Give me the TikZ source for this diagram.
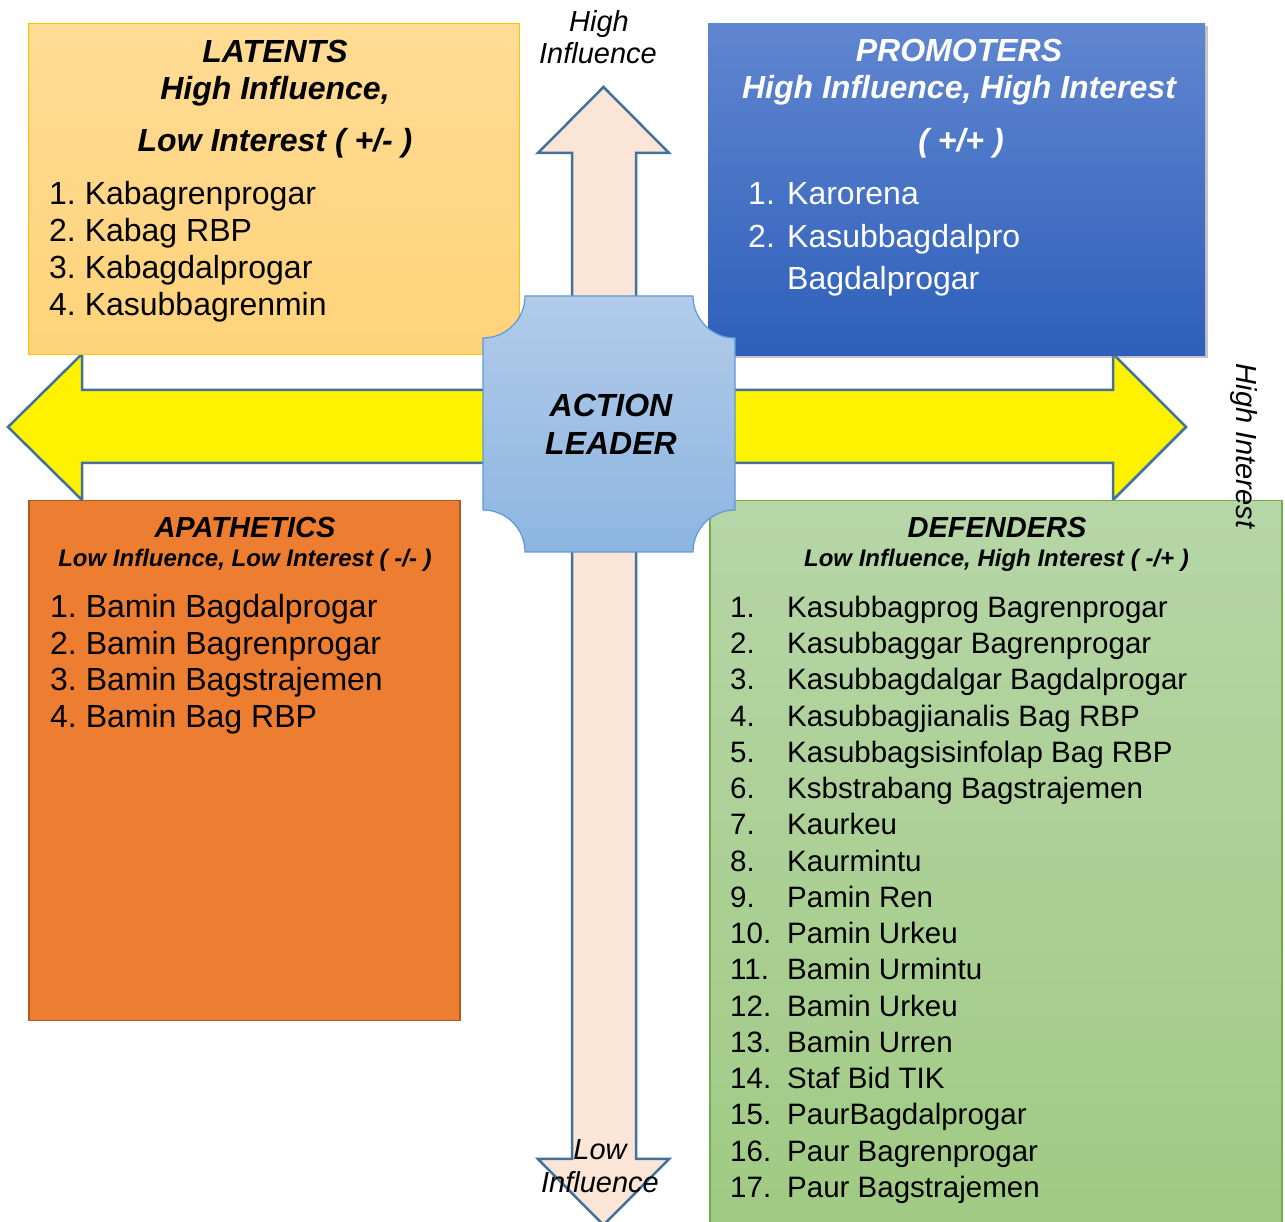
\documentclass[tikz,border=0pt]{standalone}
\usepackage{fontspec}
\setmainfont{Liberation Sans}
\usepackage{tikz}
\usetikzlibrary{shadows}
\definecolor{arrowline}{RGB}{65,113,156}
\definecolor{peach}{RGB}{251,229,214}
\definecolor{lattop}{RGB}{255,219,148}
\definecolor{latbot}{RGB}{255,211,122}
\definecolor{latline}{RGB}{255,192,0}
\definecolor{protop}{RGB}{96,134,208}
\definecolor{probot}{RGB}{46,95,186}
\definecolor{apafill}{RGB}{237,125,49}
\definecolor{apaline}{RGB}{174,90,33}
\definecolor{deftop}{RGB}{182,214,167}
\definecolor{defbot}{RGB}{160,202,131}
\definecolor{defline}{RGB}{112,173,71}
\definecolor{leadtop}{RGB}{178,203,233}
\definecolor{leadbot}{RGB}{141,181,226}
\definecolor{leadline}{RGB}{91,155,213}

\begin{document}
\begin{tikzpicture}[x=1pt,y=1pt,
  arrowshape/.style={draw=arrowline,line width=2.5pt,line join=miter},
  quad/.style={anchor=north west,inner sep=0pt},
  title/.style={font=\fontsize{32}{38}\selectfont\bfseries\itshape,anchor=base,inner sep=0pt},
  smalltitle/.style={font=\fontsize{29}{34}\selectfont\bfseries\itshape,anchor=base,inner sep=0pt},
  sub/.style={font=\fontsize{24}{28}\selectfont\bfseries\itshape,anchor=base,inner sep=0pt},
  item/.style={font=\fontsize{32}{38}\selectfont,anchor=base west,inner sep=0pt},
  defitem/.style={font=\fontsize{29.5}{34}\selectfont,anchor=base west,inner sep=0pt},
  axis/.style={font=\fontsize{29}{32}\selectfont\itshape,anchor=base,inner sep=0pt}]
\useasboundingbox (0,0) rectangle (1285,1222);

\draw[arrowshape,fill=peach] (572,1069) -- (538,1069) -- (603.5,1135) -- (669,1069) -- (636,1069)
  -- (636,63) -- (669,63) -- (603.5,-3) -- (538,63) -- (572,63) -- cycle;
\draw[arrowshape,fill=yellow] (82,832) -- (82,868) -- (8,795) -- (82,722) -- (82,759) -- (1113,759)
  -- (1113,722) -- (1186,795) -- (1113,868) -- (1113,832) -- cycle;

\node[quad,draw=latline,line width=1pt,top color=lattop,bottom color=latbot,minimum width=491,minimum height=331] (latents) at (28,1199) {};
\node[quad,top color=protop,bottom color=probot,minimum width=497,minimum height=332,
  drop shadow={shadow xshift=3pt,shadow yshift=-3pt,opacity=.45}] (promoters) at (708,1199) {};
\node[quad,draw=apaline,line width=1.5pt,fill=apafill,minimum width=431,minimum height=520] (apathetics) at (28,722) {};
\node[quad,draw=defline,line width=1.5pt,top color=deftop,bottom color=defbot,minimum width=572,minimum height=735] (defenders) at (709,722) {};

\draw[draw=leadline,line width=1.2pt,top color=leadtop,bottom color=leadbot]
  (525,926) -- (693,926) arc[start angle=180,end angle=270,radius=42] -- (735,712)
  arc[start angle=90,end angle=180,radius=42] -- (525,670)
  arc[start angle=0,end angle=90,radius=42] -- (483,884)
  arc[start angle=270,end angle=360,radius=42] -- cycle;
\node[title] (action) at (611,805.5) {ACTION};
\node[title] (leader) at (611,767.5) {LEADER};

\node[axis] (hiinf1) at (599,1190) {High};
\node[axis] (hiinf2) at (598,1158) {Influence};
\node[axis] (loinf1) at (600,62) {Low};
\node[axis] (loinf2) at (600,29) {Influence};
\node[font=\fontsize{29}{32}\selectfont\itshape,rotate=-90] (hiint) at (1244,776) {High Interest};

\node[title] (lattitle) at (275,1159.5) {LATENTS};
\node[title] (latsub1) at (275,1122) {High Influence,};
\node[title] (latsub2) at (275,1070) {Low Interest ( +/- )};
\foreach \n/\lbl in {1/Kabagrenprogar,2/Kabag RBP,3/Kabagdalprogar,4/Kasubbagrenmin}
  \node[item] (lat\n) at (49,{1017-37*(\n-1)}) {\n.~\lbl};

\node[title,text=white] (protitle) at (959,1160) {PROMOTERS};
\node[title,text=white] (prosub1) at (959,1123) {High Influence, High Interest};
\node[title,text=white] (prosub2) at (961,1070) {( +/+ )};
\node[item,text=white] (pro1) at (748,1017) {\makebox[39pt][l]{1.}Karorena};
\node[item,text=white] (pro2) at (748,974) {\makebox[39pt][l]{2.}Kasubbagdalpro};
\node[item,text=white] (pro2b) at (787,932) {Bagdalprogar};

\node[smalltitle] (apatitle) at (245,684) {APATHETICS};
\node[sub] (apasub) at (245,655) {Low Influence, Low Interest ( -/- )};
\foreach \n/\lbl in {1/Bamin Bagdalprogar,2/Bamin Bagrenprogar,3/Bamin Bagstrajemen,4/Bamin Bag RBP}
  \node[item] (apa\n) at (50,{604-36.5*(\n-1)}) {\n.~\lbl};

\node[smalltitle] (deftitle) at (997,684) {DEFENDERS};
\node[sub] (defsub) at (996.5,655) {Low Influence, High Interest ( -/+ )};
\foreach \n/\lbl in {1/Kasubbagprog Bagrenprogar,2/Kasubbaggar Bagrenprogar,3/Kasubbagdalgar Bagdalprogar,
  4/Kasubbagjianalis Bag RBP,5/Kasubbagsisinfolap Bag RBP,6/Ksbstrabang Bagstrajemen,7/Kaurkeu,8/Kaurmintu,
  9/Pamin Ren,10/Pamin Urkeu,11/Bamin Urmintu,12/Bamin Urkeu,13/Bamin Urren,14/Staf Bid TIK,
  15/PaurBagdalprogar,16/Paur Bagrenprogar,17/Paur Bagstrajemen}
  \node[defitem] (def\n) at (730,{604.5-36.25*(\n-1)}) {\makebox[57pt][l]{\n.}\lbl};
\end{tikzpicture}
\end{document}
